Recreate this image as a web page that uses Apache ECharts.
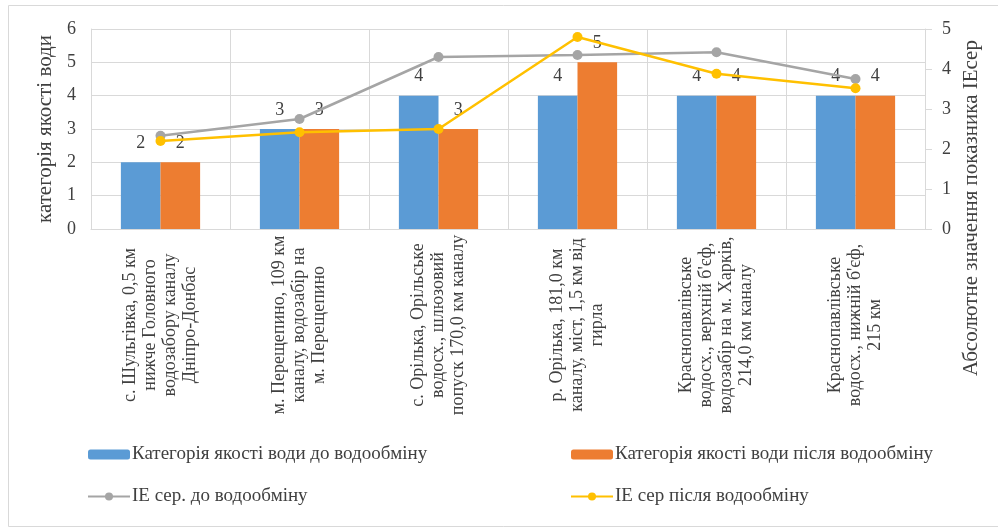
<!DOCTYPE html>
<html>
<head>
<meta charset="utf-8">
<script src="https://cdn.jsdelivr.net/npm/echarts@6/dist/echarts.min.js"></script>
<style>
  html, body { margin: 0; padding: 0; background: #fff; }
  #chart { width: 998px; height: 529px; }
</style>
</head>
<body>
<div id="chart"></div>
<script>
// categories (line breaks as in the original)
const categories = [
  "с. Шульгівка, 0,5 км\nнижче Головного\nводозабору каналу\nДніпро-Донбас",
  "м. Перещепино, 109 км\nканалу, водозабір на\nм. Перещепино",
  "с. Орілька, Орільське\nводосх., шлюзовий\nпопуск 170,0 км каналу",
  "р. Орілька, 181,0 км\nканалу, міст, 1,5 км від\nгирла",
  "Краснопавлівське\nводосх., верхній б'єф,\nводозабір на м. Харків,\n214,0 км каналу",
  "Краснопавлівське\nводосх., нижній б'єф,\n215 км"
];
const seriesNames = [
  "Категорія якості води до водообміну",
  "Категорія якості води після водообміну",
  "IE сер. до водообміну",
  "IE сер після водообміну"
];
const categoryBefore = [2, 3, 4, 4, 4, 4];
const categoryAfter = [2, 3, 3, 5, 4, 4];
const ieBefore = [2.33, 2.75, 4.3, 4.35, 4.42, 3.75];
const ieAfter = [2.2, 2.42, 2.5, 4.8, 3.88, 3.52];
const leftTicks = [0, 6, 1];
const rightTicks = [0, 5, 1];

const FONT = "Liberation Serif";
const TXT = "#404040";
const GRID = "#d9d9d9";

const chart = echarts.init(document.getElementById("chart"));

// shared legend look
function legendAt(left, names) {
  return {
    orient: "vertical",
    left: left,
    top: 440,
    itemGap: 23,
    itemWidth: 42,
    itemHeight: 10,
    itemStyle: { borderWidth: 0 },
    textStyle: { fontFamily: FONT, fontSize: 19, color: TXT, padding: [0, 0, 0, -3] },
    data: names
  };
}

const option = {
  animation: false,
  textStyle: { fontFamily: FONT },
  grid: { left: 91, right: 73, top: 29, bottom: 300, containLabel: false },
  legend: [
    legendAt(82, [seriesNames[0], seriesNames[2]]),
    legendAt(565, [seriesNames[1], seriesNames[3]])
  ],
  graphic: [
    {
      type: "rect",
      shape: { x: 8.5, y: 5.5, width: 1000, height: 521 },
      style: { fill: null, stroke: GRID, lineWidth: 1 },
      silent: true
    },
    {
      type: "text",
      x: 971,
      y: 208,
      rotation: Math.PI / 2,
      style: {
        text: "Абсолютне значення показника IEсер",
        fontFamily: FONT,
        fontSize: 21,
        fill: TXT,
        align: "center",
        verticalAlign: "middle"
      }
    }
  ],
  xAxis: {
    type: "category",
    data: categories,
    axisLine: { show: true, lineStyle: { color: GRID } },
    axisTick: { show: false },
    splitLine: { show: true, lineStyle: { color: GRID } },
    axisLabel: {
      interval: 0,
      rotate: 90,
      margin: 11,
      formatter: function (v) {
        return v.split("\n").map(function (s) { return "{a|" + s + "}"; }).join("\n");
      },
      rich: {
        a: {
          fontFamily: FONT,
          fontSize: 18,
          color: TXT,
          width: 170,
          align: "center",
          lineHeight: 20
        }
      }
    }
  },
  yAxis: [
    {
      type: "value",
      min: leftTicks[0],
      max: leftTicks[1],
      interval: leftTicks[2],
      name: "категорія якості води",
      nameLocation: "middle",
      nameGap: 35,
      nameTextStyle: { fontFamily: FONT, fontSize: 21, color: TXT },
      axisLine: { show: true, lineStyle: { color: GRID } },
      axisTick: { show: false },
      splitLine: { show: true, lineStyle: { color: GRID } },
      axisLabel: { fontFamily: FONT, fontSize: 18, color: TXT, margin: 15 }
    },
    {
      type: "value",
      min: rightTicks[0],
      max: rightTicks[1],
      interval: rightTicks[2],
      position: "right",
      axisLine: { show: true, lineStyle: { color: GRID } },
      axisTick: { show: true, length: 7, lineStyle: { color: GRID } },
      splitLine: { show: false },
      axisLabel: { fontFamily: FONT, fontSize: 18, color: TXT, margin: 17 }
    }
  ],
  series: [
    {
      name: seriesNames[0],
      type: "bar",
      data: categoryBefore,
      barGap: "0%",
      barCategoryGap: "43%",
      itemStyle: { color: "#5B9BD5" },
      label: { show: true, position: "top", distance: 10, fontFamily: FONT, fontSize: 18, color: TXT }
    },
    {
      name: seriesNames[1],
      type: "bar",
      data: categoryAfter,
      barGap: "0%",
      barCategoryGap: "43%",
      itemStyle: { color: "#ED7D31" },
      label: { show: true, position: "top", distance: 10, fontFamily: FONT, fontSize: 18, color: TXT }
    },
    {
      name: seriesNames[2],
      type: "line",
      yAxisIndex: 1,
      data: ieBefore,
      symbol: "circle",
      symbolSize: 10,
      z: 5,
      lineStyle: { color: "#A5A5A5", width: 2.5 },
      itemStyle: { color: "#A5A5A5" }
    },
    {
      name: seriesNames[3],
      type: "line",
      yAxisIndex: 1,
      data: ieAfter,
      symbol: "circle",
      symbolSize: 10,
      z: 6,
      lineStyle: { color: "#FFC000", width: 2.5 },
      itemStyle: { color: "#FFC000" }
    }
  ]
};

chart.setOption(option);
</script>
</body>
</html>
